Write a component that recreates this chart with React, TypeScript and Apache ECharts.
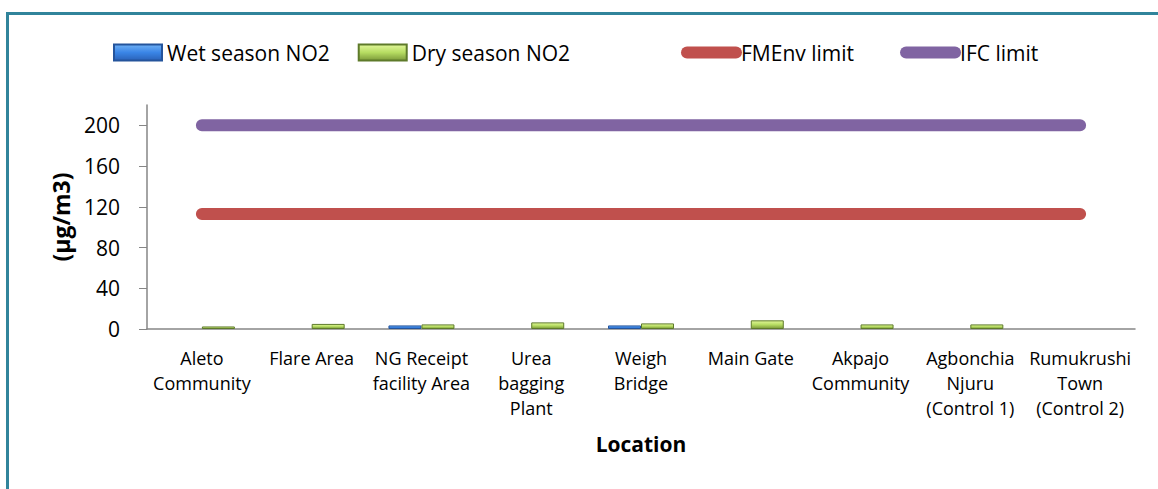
import React, { useEffect, useRef } from "react";
import * as echarts from "echarts";

const categories = [
  "Aleto\nCommunity",
  "Flare Area",
  "NG Receipt\nfacility Area",
  "Urea\nbagging\nPlant",
  "Weigh\nBridge",
  "Main Gate",
  "Akpajo\nCommunity",
  "Agbonchia\nNjuru\n(Control 1)",
  "Rumukrushi\nTown\n(Control 2)",
];
const wetSeason: (number | null)[] = [null, null, 3.5, null, 3.5, null, null, null, null];
const drySeason: (number | null)[] = [2.5, 5, 4.5, 6.5, 5.5, 8.5, 4.5, 4.5, null];
const fmenvLimit = [113, 113, 113, 113, 113, 113, 113, 113, 113];
const ifcLimit = [200, 200, 200, 200, 200, 200, 200, 200, 200];
const yTicks = [0, 40, 80, 120, 160, 200];

const FONT = "'Open Sans', 'Liberation Sans', sans-serif";

export default function App() {
  const ref = useRef<HTMLDivElement>(null);
  useEffect(() => {
    if (!ref.current) return;
    const chart = echarts.init(ref.current, null, { renderer: "svg" });
    const wetColor = new echarts.graphic.LinearGradient(0, 0, 0, 1, [
      { offset: 0, color: "#6fb0f5" },
      { offset: 0.5, color: "#3a85e6" },
      { offset: 1, color: "#2a62b8" },
    ]);
    const dryColor = new echarts.graphic.LinearGradient(0, 0, 0, 1, [
      { offset: 0, color: "#e2f79a" },
      { offset: 0.5, color: "#b6dc62" },
      { offset: 1, color: "#7c9a3a" },
    ]);
    chart.setOption({
      animation: false,
      backgroundColor: "#ffffff",
      textStyle: { fontFamily: FONT },
      graphic: [
        { type: "rect", shape: { x: 6, y: 12, width: 3, height: 477 }, style: { fill: "#31849B" } },
        { type: "rect", shape: { x: 6, y: 12, width: 1152, height: 3 }, style: { fill: "#31849B" } },
      ],
      legend: [
        {
          data: ["Wet season NO2", "Dry season NO2"],
          left: 113,
          top: 42,
          padding: 0,
          itemWidth: 48,
          itemHeight: 16,
          itemGap: 28,
          icon: "rect",
          textStyle: { fontSize: 21, color: "#000", fontFamily: FONT },
        },
        {
          data: ["FMEnv limit", "IFC limit"],
          left: 681,
          top: 42,
          padding: 0,
          itemWidth: 49,
          itemHeight: 16,
          itemGap: 46,
          lineStyle: { width: 12, cap: "round" },
          itemStyle: { opacity: 0 },
          textStyle: { fontSize: 21, color: "#000", fontFamily: FONT },
        },
      ],
      grid: { left: 147, right: 23, top: 105, bottom: 160, containLabel: false },
      xAxis: {
        type: "category",
        data: categories,
        name: "Location",
        nameLocation: "middle",
        nameGap: 104,
        nameTextStyle: { fontSize: 21, fontWeight: "bold", color: "#000", fontFamily: FONT },
        axisLine: { lineStyle: { color: "#868686", width: 1.5 } },
        axisTick: { show: false },
        axisLabel: {
          interval: 0,
          fontSize: 18,
          lineHeight: 25,
          color: "#000",
          margin: 16,
          fontFamily: FONT,
        },
      },
      yAxis: {
        type: "value",
        min: 0,
        max: 220,
        interval: 40,
        name: "(µg/m3)",
        nameLocation: "middle",
        nameGap: 75,
        nameTextStyle: { fontSize: 23, fontWeight: "bold", color: "#000", fontFamily: FONT },
        splitLine: { show: false },
        axisLine: { show: true, lineStyle: { color: "#868686", width: 1.5 } },
        axisTick: { show: true, length: 8, customValues: yTicks, lineStyle: { color: "#868686" } },
        axisLabel: { fontSize: 21, color: "#000", margin: 27, customValues: yTicks, fontFamily: FONT },
      },
      series: [
        {
          name: "Wet season NO2",
          type: "bar",
          data: wetSeason,
          barWidth: 33,
          barGap: "0%",
          itemStyle: { color: wetColor, borderColor: "#24549c", borderWidth: 1 },
        },
        {
          name: "Dry season NO2",
          type: "bar",
          data: drySeason,
          barWidth: 33,
          itemStyle: { color: dryColor, borderColor: "#5e7a2a", borderWidth: 1 },
        },
        {
          name: "FMEnv limit",
          type: "line",
          data: fmenvLimit,
          symbol: "none",
          color: "#C0504D",
          lineStyle: { color: "#C0504D", width: 12, cap: "round" },
          z: 3,
        },
        {
          name: "IFC limit",
          type: "line",
          data: ifcLimit,
          symbol: "none",
          color: "#8064A2",
          lineStyle: { color: "#8064A2", width: 12, cap: "round" },
          z: 3,
        },
      ],
    });
    return () => chart.dispose();
  }, []);
  return (
    <div
      ref={ref}
      style={{ position: "absolute", left: 0, top: 0, width: 1158, height: 489 }}
    />
  );
}
